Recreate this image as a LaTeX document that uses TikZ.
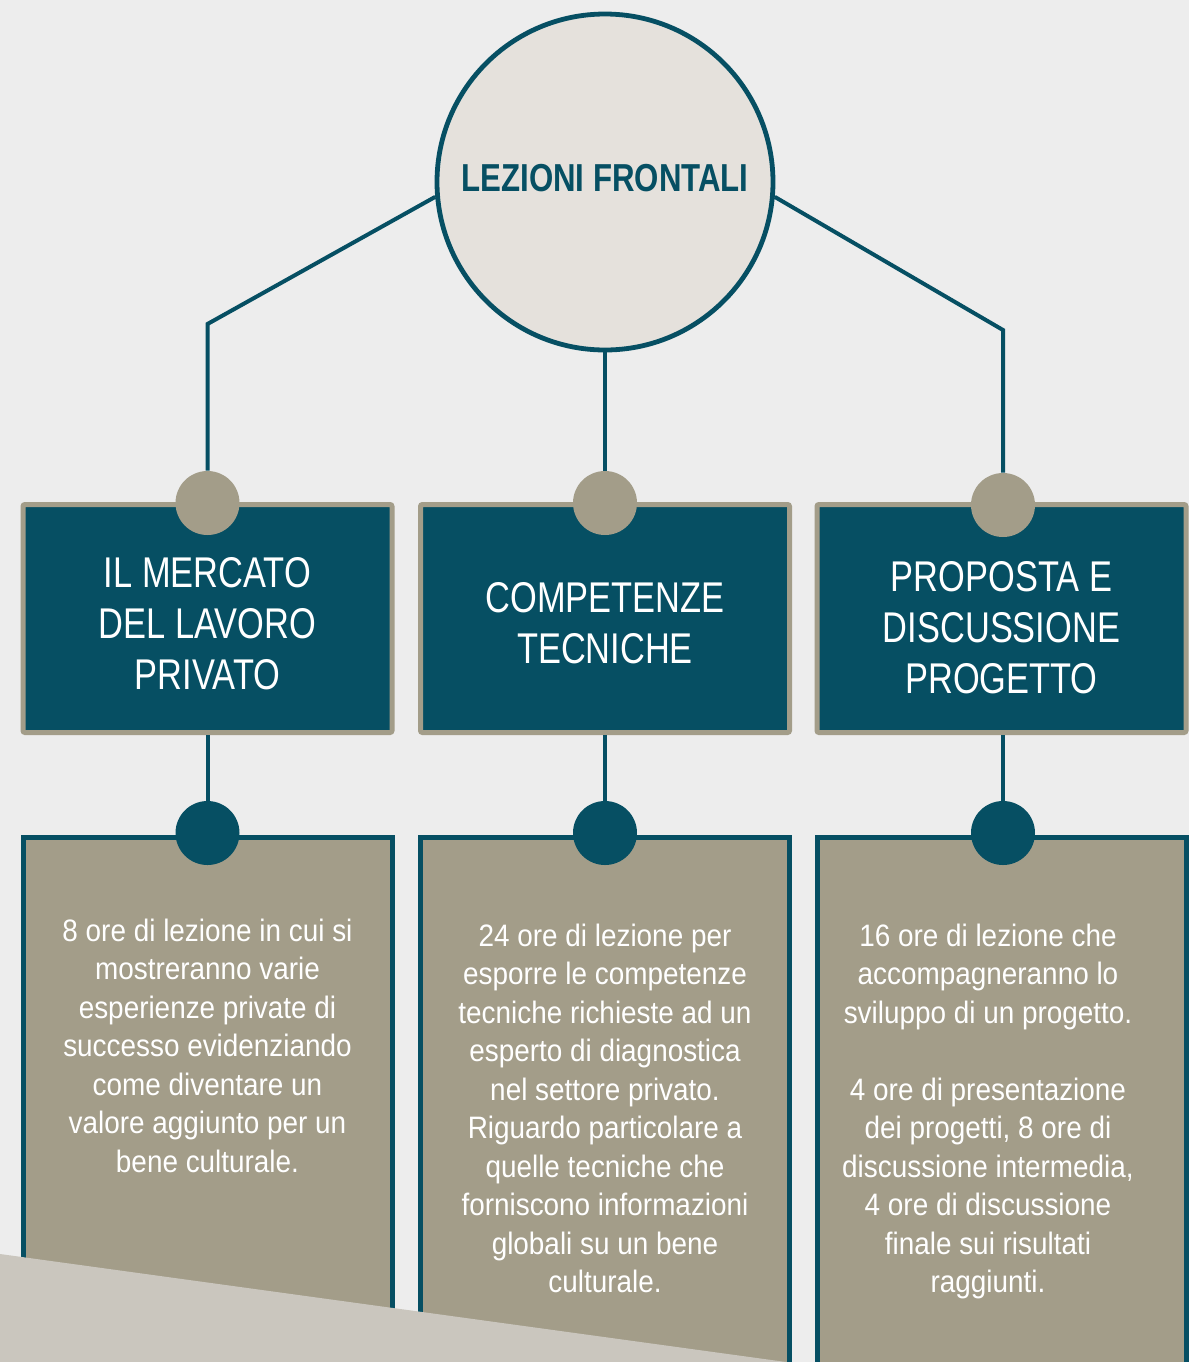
\documentclass[tikz,border=0pt]{standalone}
\usepackage{fontspec}
\setmainfont{Liberation Sans}
\newfontfamily\capsfont[FakeStretch=0.8]{Liberation Sans}
\newfontfamily\bodyfont[FakeStretch=0.9]{Liberation Sans}
\usetikzlibrary{positioning,shapes,calc}
\definecolor{oteal}{HTML}{064F63}
\definecolor{otan}{HTML}{A39D89}
\definecolor{opaper}{HTML}{EDEDED}
\definecolor{ocream}{HTML}{E5E1DC}
\definecolor{oveil}{HTML}{CAC6BE}
\newcommand{\capgap}[1]{\rule{0pt}{#1}}
\tikzstyle{hub} = [circle, draw=oteal, line width=2.4pt, fill=ocream,
        minimum size=168pt, inner sep=0pt, text=oteal, text depth=4pt,
        font=\capsfont\bfseries\fontsize{19.5}{23}\selectfont]
\tikzstyle{headbox} = [rectangle, draw=otan, line width=2.5pt, fill=oteal,
        rounded corners=1pt, minimum width=184.5pt, minimum height=114pt,
        inner sep=0pt, align=center, text=white,
        font=\capsfont\fontsize{21.5}{25.5}\selectfont]
\tikzstyle{infobox} = [rectangle, draw=oteal, line width=2.5pt, fill=otan,
        minimum width=184.5pt, minimum height=300pt, inner sep=0pt, anchor=north]
\tikzstyle{knob} = [circle, fill=otan, minimum size=32pt, inner sep=0pt]
\tikzstyle{pin} = [circle, fill=oteal, minimum size=32pt, inner sep=0pt]
\tikzstyle{link} = [draw=oteal, line width=2pt]
\tikzstyle{info} = [align=center, text=white, inner sep=0pt,
        font=\bodyfont\fontsize{15.5}{19.25}\selectfont]

\begin{document}
\begin{tikzpicture}[x=0.5pt, y=-0.5pt]
\fill[opaper] (0,0) rectangle (1189,1362);
\clip (0,0) rectangle (1189,1362);

% main topic
\node (root) [hub] at (605,182) {LEZIONI FRONTALI};

% the three modules
\node (headA) [headbox] at (207.5,618.5) {\capgap{20.4pt}IL MERCATO\\DEL LAVORO\\PRIVATO};
\node (headB) [headbox] at (605,618.5) {\capgap{19.4pt}COMPETENZE\\TECNICHE};
\node (headC) [headbox] at (1001.5,618.5) {\capgap{24.4pt}PROPOSTA E\\DISCUSSIONE\\PROGETTO};

\node (infoA) [infobox] at (207.5,834.5) {};
\node (infoB) [infobox] at (605,834.5) {};
\node (infoC) [infobox] at (1001.5,834.5) {};

\node (knobA) [knob] at (207.5,503) {};
\node (knobB) [knob] at (605,503) {};
\node (knobC) [knob] at (1003,505) {};

\node (pinA) [pin] at (207.5,833) {};
\node (pinB) [pin] at (605,833) {};
\node (pinC) [pin] at (1003,833) {};

% connectors
\coordinate (bendA) at (207.5,324);
\coordinate (bendC) at (1003,330);
\draw[link] (root.185) -- (bendA) -- (knobA);
\draw[link] (root) -- (knobB);
\draw[link] (root.355) -- (bendC) -- (knobC);
\draw[link] (headA) -- (pinA);
\draw[link] (headB) -- (pinB);
\draw[link] (headC.south -| pinC) -- (pinC);

% details
\node (textA) [info, below=26.5pt of pinA] {8 ore di lezione in cui si\\mostreranno varie\\esperienze private di\\successo evidenziando\\come diventare un\\valore aggiunto per un\\bene culturale.};
\node (textB) [info, below=29pt of pinB] {24 ore di lezione per\\esporre le competenze\\tecniche richieste ad un\\esperto di diagnostica\\nel settore privato.\\Riguardo particolare a\\quelle tecniche che\\forniscono informazioni\\globali su un bene\\culturale.};
\node (textC) [info, below=29pt of pinC, xshift=-7.5pt] {16 ore di lezione che\\accompagneranno lo\\sviluppo di un progetto.\\[19.25pt]4 ore di presentazione\\dei progetti, 8 ore di\\discussione intermedia,\\4 ore di discussione\\finale sui risultati\\raggiunti.};

\fill[oveil] (0,1254) -- (786,1362) -- (0,1362) -- cycle;
\end{tikzpicture}
\end{document}
